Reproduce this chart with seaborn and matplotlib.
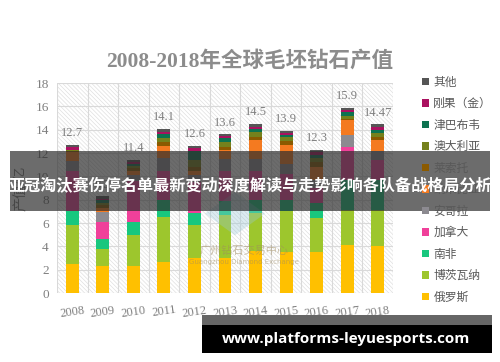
import numpy as np
import pandas as pd
import seaborn as sns
import matplotlib.pyplot as plt
from matplotlib.patches import Patch, Rectangle

# 数据（十亿美元，自图中读取）
years = ["2008", "2009", "2010", "2011", "2012", "2013", "2014", "2015", "2016", "2017", "2018"]
totals_label = ["12.7", "8.3", "11.4", "14.1", "12.6", "13.6", "14.5", "13.9", "12.3", "15.9", "14.47"]

russia = [2.5, 2.35, 2.35, 2.65, 3.0, 3.0, 3.6, 3.5, 3.5, 4.1, 4.0]
botswana = [3.3, 1.4, 2.6, 3.9, 2.85, 3.7, 3.25, 3.5, 2.9, 3.0, 3.1]
south_africa = [1.2, 0.9, 1.1, 1.4, 1.05, 1.2, 1.15, 1.0, 1.3, 2.6, 2.6]
canada = [3.5, 1.45, 3.55, 2.55, 2.6, 2.6, 2.5, 2.2, 1.3, 2.85, 1.7]
angola = [0.85, 0.85, 0.5, 1.05, 0.6, 1.0, 1.0, 0.9, 0.7, 1.0, 0.8]
namibia = [0.75, 0.35, 0.4, 1.05, 0.4, 0.75, 1.6, 1.6, 1.1, 1.25, 0.9]
lesotho = [0.05, 0.25, 0.2, 0.35, 0.3, 0.3, 0.3, 0.3, 0.45, 0.1, 0.3]
australia = [0.1, 0.2, 0.2, 0.3, 0.6, 0.4, 0.4, 0.35, 0.3, 0.3, 0.28]
zimbabwe = [0.05, 0.2, 0.2, 0.35, 0.8, 0.35, 0.25, 0.2, 0.3, 0.3, 0.29]
drc = [0.2, 0.15, 0.15, 0.2, 0.2, 0.15, 0.2, 0.15, 0.2, 0.2, 0.28]
others = [0.2, 0.2, 0.15, 0.3, 0.2, 0.15, 0.25, 0.2, 0.25, 0.2, 0.22]

names = ["俄罗斯", "博茨瓦纳", "南非", "加拿大", "安哥拉", "纳米比亚",
         "莱索托", "澳大利亚", "津巴布韦", "刚果（金）", "其他"]
series = [russia, botswana, south_africa, canada, angola, namibia,
          lesotho, australia, zimbabwe, drc, others]
colors = ["#FFC000", "#9DC62D", "#18C77E", "#F0409A", "#8C8A90", "#F47A20",
          "#8B5A00", "#75811C", "#0D7350", "#AA1160", "#555555"]

df = pd.DataFrame(dict(zip(names, series)), index=years)
cum = df.cumsum(axis=1)

sns.set_theme(style="white")
plt.rcParams["font.family"] = ["Liberation Serif", "Noto Sans CJK SC", "DejaVu Sans"]
plt.rcParams["hatch.linewidth"] = 0.5
plt.rcParams["hatch.color"] = "#e0e0e0"

fig = plt.figure(figsize=(5, 3.62), dpi=100)
ax = fig.add_axes([0.114, 0.1906, 0.672, 0.58])

# 背景斜纹
ax.add_patch(Rectangle((0, 0), 1, 1, transform=ax.transAxes, facecolor="none",
                       edgecolor="#e0e0e0", hatch="\\\\\\\\\\\\\\\\", lw=0, zorder=0))

# 累计高度从高到低依次绘制，形成堆叠柱
for name, c in reversed(list(zip(names, colors))):
    sns.barplot(x=years, y=cum[name].values, color=c, saturation=1, width=0.42,
                linewidth=0, edgecolor="none", ax=ax, zorder=2)

for i, (t, lab) in enumerate(zip(cum["其他"].values, totals_label)):
    ax.annotate(lab, (i, t), xytext=(0, 4), textcoords="offset points",
                ha="center", va="bottom", fontsize=9, color="#7f7f7f",
                family="Liberation Serif")

ax.set_xlim(-0.5, 10.5)
ax.set_ylim(0, 18)
ax.set_yticks(np.arange(0, 19, 2))
ax.set_xticks(np.arange(-0.5, 11, 1), minor=True)
ax.grid(axis="y", color="#d9d9d9", lw=0.8, zorder=1)
ax.grid(axis="x", which="minor", color="#d9d9d9", lw=0.8, zorder=1)
ax.grid(axis="x", which="major", visible=False)
for s in ax.spines.values():
    s.set_visible(False)
ax.tick_params(axis="y", labelsize=9.5, labelcolor="#7f7f7f", pad=6, length=0)
ax.tick_params(axis="x", labelsize=9, labelcolor="#7f7f7f", pad=8, length=0,
               labelrotation=8)
ax.tick_params(axis="x", which="minor", length=0)
ax.set_xlabel("")
ax.set_ylabel("产值/亿", fontsize=10, color="#7f7f7f", labelpad=6)

fig.text(0.5, 0.832, "2008-2018年全球毛坯钻石产值", ha="center", va="center",
         fontsize=15.5, fontweight="bold", color="#8c8c8c")

handles = [Patch(facecolor=c, edgecolor="none") for c in colors][::-1]
fig.legend(handles, names[::-1], loc="upper left", bbox_to_anchor=(0.822, 0.82),
           frameon=False, labelcolor="#595959",
           handlelength=0.6, handleheight=0.6, handletextpad=0.4,
           labelspacing=0.72, prop={"family": ["Noto Sans CJK SC"], "size": 8.5})

# 水印
fig.text(0.488, 0.308, "广州钻石交易中心", ha="center", va="center", fontsize=8,
         color="#a08c60", alpha=0.55, family=["Noto Sans CJK SC"])
fig.text(0.488, 0.277, "Guangzhou Diamond Exchange", ha="center", va="center",
         fontsize=5, color="#a08c60", alpha=0.55, family=["DejaVu Sans"])
fig.patches.append(plt.Polygon([[0.47, 0.47], [0.53, 0.41], [0.47, 0.35], [0.41, 0.41]],
                               closed=True, transform=fig.transFigure,
                               facecolor="#9cc8d8", alpha=0.35, edgecolor="none"))

# 中部横幅
fig.patches.append(Rectangle((0.02, 0.417), 0.96, 0.166, transform=fig.transFigure,
                             facecolor="#2e2e2e", alpha=0.7, edgecolor="none", zorder=5))
fig.text(0.5, 0.487, "亚冠淘汰赛伤停名单最新变动深度解读与走势影响各队备战格局分析",
         ha="center", va="center", fontsize=11.6, fontweight="bold", color="white",
         family=["Noto Sans CJK SC"], zorder=6)

# 底部网址条
fig.patches.append(Rectangle((0.404, 0.102), 0.58, 0.028, transform=fig.transFigure,
                             facecolor="#666666", edgecolor="none", zorder=5))
fig.patches.append(Rectangle((0.404, 0.025), 0.58, 0.077, transform=fig.transFigure,
                             facecolor="black", edgecolor="none", zorder=5))
fig.text(0.692, 0.0635, "www.platforms-leyuesports.com", ha="center", va="center",
         fontsize=11, fontweight="bold", color="white", family=["Open Sans"], zorder=6)

fig.savefig("out.png", dpi=100)
